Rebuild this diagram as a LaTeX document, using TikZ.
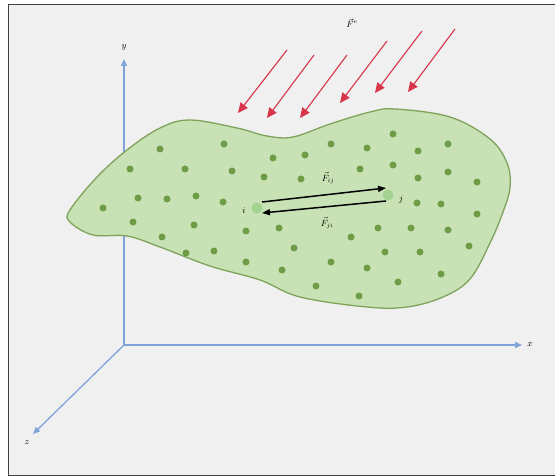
\documentclass[tikz,border=0pt]{standalone}
\usepackage{amsmath,amssymb}
\usepackage{tikz}
\usetikzlibrary{arrows.meta,calc}

\definecolor{bodyfill}{HTML}{C8E2B5}
\definecolor{bodyline}{HTML}{7FA35A}
\definecolor{particle}{HTML}{6F9C47}
\definecolor{axisblue}{HTML}{7FA5D8}
\definecolor{forcered}{HTML}{D8344A}
\definecolor{paper}{HTML}{F0F0F0}

\begin{document}
\begin{tikzpicture}[x=1pt,y=-1pt,
  axis/.style={axisblue,line width=1.3pt,-{Triangle[length=7pt,width=6pt]}},
  extforce/.style={forcered,line width=1.1pt,-{Triangle[length=10pt,width=9pt]}},
  pair/.style={black,line width=1.5pt,-{Triangle[length=8pt,width=6pt]}},
  dot/.style={circle,fill=particle,inner sep=0pt,minimum size=7pt},
  bigdot/.style={circle,fill=bodyline!80!green!60,inner sep=0pt,minimum size=11pt},
  lab/.style={font=\small,inner sep=1pt}]
\useasboundingbox (0,0) rectangle (555,476);
\fill[white] (0,0) rectangle (555,476);
\fill[paper] (8,5) rectangle (555,475);
\draw[black!75,line width=1pt] (555,5) -- (8,5) -- (8,475) -- (555,475);

% axes
\coordinate (O) at (124,345);
\coordinate (xtip) at (522,345);
\coordinate (ytip) at (124,59);
\coordinate (ztip) at (33,434);
\draw[axis] (O) -- (xtip);
\draw[axis] (O) -- (ytip);
\draw[axis] (O) -- (ztip);
\node[lab] (xlab) at (530,345) {$x$};
\node[lab] (ylab) at (124,47) {$y$};
\node[lab] (zlab) at (27,443) {$z$};

% body
\filldraw[fill=bodyfill,draw=bodyline,line width=1.3pt]
  plot[smooth cycle,tension=0.6] coordinates {
  (70,210) (97,177) (127,150) (160,128) (190,120) (237,128) (267,136)
  (293,137) (330,124) (370,112) (395,109) (450,117) (490,139) (507,163)
  (510,187) (503,212) (490,243) (470,279) (443,297) (407,307) (367,307)
  (300,297) (260,280) (210,266) (160,247) (127,236) (93,235) (70,222)};

\foreach \px/\py [count=\k] in {160/149,224/144,130/169,185/169,232/171,273/158,
  264/177,138/198,167/199,196/196,223/202,103/208,301/179,393/134,331/144,
  367/148,418/151,448/144,305/155,360/169,393/165,418/178,448/172,477/182,
  417/203,441/204,477/214,133/222,162/237,194/225,186/253,214/251,246/231,
  246/262,279/228,282/270,294/248,378/228,411/228,448/230,351/237,385/252,
  420/252,469/246,331/262,367/268,441/274,316/286,398/282,359/296}
  \node[dot] (p\k) at (\px,\py) {};

% particles i and j
\node[bigdot] (i) at (257,208) {};
\node[bigdot] (j) at (388,195) {};
\node[lab] (ilab) at (244,211) {$i$};
\node[lab] (jlab) at (401,199) {$j$};
\draw[pair] ($(i)+(5,-6)$) -- ($(j)+(-2,-7)$);
\draw[pair] ($(j)+(-2,6)$) -- ($(i)+(5,5)$);
\node[lab] (fij) at (328,178) {$\vec{F}_{ij}$};
\node[lab] (fji) at (327,223) {$\vec{F}_{ji}$};

% external forces
\foreach \sx/\sy/\tx/\ty [count=\k] in {287/50/238/113,314/55/267/118,347/55/300/118,
  387/41/340/103,422/31/375/93,455/29/408/92}{
  \coordinate (s\k) at (\sx,\sy);
  \coordinate (t\k) at (\tx,\ty);
  \draw[extforce] (s\k) -- (t\k);
}
\node[lab] (fe) at (352,23) {$\vec{F}^{e}$};
\end{tikzpicture}
\end{document}
